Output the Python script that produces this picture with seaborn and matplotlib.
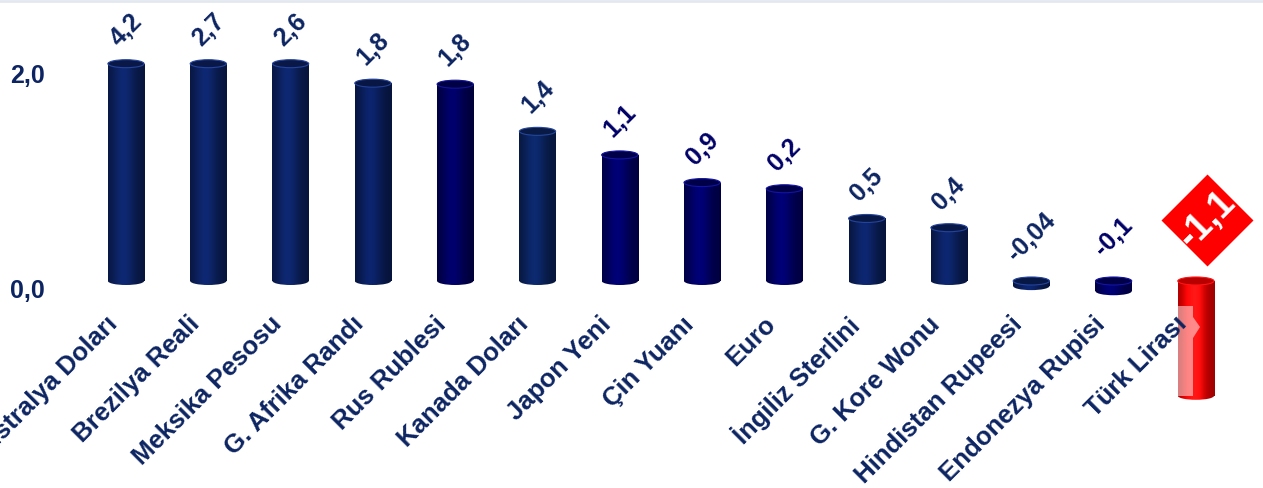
import numpy as np
import matplotlib
matplotlib.use("Agg")
import matplotlib.pyplot as plt
import matplotlib.transforms as mtransforms
import seaborn as sns
from matplotlib.patches import Rectangle, Ellipse, Polygon
from matplotlib.colors import to_rgb

# ---------------- data ----------------
currencies = ["Avustralya Doları", "Brezilya Reali", "Meksika Pesosu", "G. Afrika Randı",
              "Rus Rublesi", "Kanada Doları", "Japon Yeni", "Çin Yuanı", "Euro",
              "İngiliz Sterlini", "G. Kore Wonu", "Hindistan Rupeesi", "Endonezya Rupisi",
              "Türk Lirası"]
bar_heights = [2.12, 2.12, 2.12, 1.93, 1.92, 1.46, 1.23, 0.96, 0.90, 0.61, 0.52, -0.05, -0.10, -1.12]
value_labels = ["4,2", "2,7", "2,6", "1,8", "1,8", "1,4", "1,1", "0,9", "0,2", "0,5", "0,4",
                "-0,04", "-0,1", "-1,1"]
bar_colors = ["#0c2262", "#0c2262", "#0c2262", "#0a1f5e", "#00005e", "#0b2460", "#000066",
              "#000066", "#000066", "#0b2161", "#0b2161", "#0b2161", "#000066", "#ff0000"]
y_ticks = [0.0, 2.0]
y_tick_labels = ["0,0", "2,0"]
highlight = "Türk Lirası"

TEXT = "#0c2461"

# ---------------- figure ----------------
sns.set_theme(style="white")
plt.rcParams['font.family'] = ['Liberation Sans', 'DejaVu Sans']

W, H = 1263, 488
fig = plt.figure(figsize=(W / 100, H / 100), dpi=100)
ax = fig.add_axes([0, 0, 1, 1])

sns.barplot(x=currencies, y=bar_heights, hue=currencies, palette=bar_colors, legend=False,
            saturation=1, width=0.44, ax=ax)

PX = 82.3      # pixels per category
UY = 102.5     # pixels per y unit
ZERO_PX = 281  # pixel row of zero
XL = (-126 / PX, -126 / PX + W / PX)
YL = (-(H - ZERO_PX) / UY, ZERO_PX / UY)
ax.axis('off')

bars = sorted(ax.patches, key=lambda p: p.get_x())
ell_h = 8 / UY


def gradient(rgb):
    t = np.linspace(0, 1, 120)
    f = 0.62 + 0.55 * np.exp(-((t - 0.42) / 0.30) ** 2)
    img = np.clip(np.array(rgb)[None, :] * f[:, None], 0, 1)
    if rgb[0] > 0.8:  # red: add a soft highlight
        hl = np.exp(-((t - 0.45) / 0.2) ** 2) * 0.15
        img = np.clip(img + hl[:, None] * np.array([0, 1, 1])[None, :] * 0.6, 0, 1)
    return img[None, :, :]


for i, p in enumerate(bars):
    rgb = to_rgb(bar_colors[i])
    x, w = p.get_x(), p.get_width()
    y_a, y_b = p.get_y(), p.get_y() + p.get_height()
    y0, y1 = min(y_a, y_b), max(y_a, y_b)
    cx = x + w / 2
    p.set_facecolor('none')
    p.set_edgecolor('none')
    img = gradient(rgb)
    # body
    body = Rectangle((x, y0), w, y1 - y0, transform=ax.transData)
    im = ax.imshow(img, extent=[x, x + w, y0 - ell_h, y1], aspect='auto',
                   interpolation='bilinear', zorder=2)
    im.set_clip_path(body)
    # rounded bottom
    bot = Ellipse((cx, y0), w, ell_h, transform=ax.transData)
    im2 = ax.imshow(img, extent=[x, x + w, y0 - ell_h, y1], aspect='auto',
                    interpolation='bilinear', zorder=2)
    im2.set_clip_path(bot)
    # top face
    top_col = np.clip(np.array(rgb) * 0.72, 0, 1)
    rim = np.clip(np.array(rgb) * 1.4 + 0.08, 0, 1)
    ax.add_patch(Ellipse((cx, y1), w, ell_h, facecolor=top_col, edgecolor=rim,
                         lw=0.8, zorder=3))

    h = bar_heights[i]
    if currencies[i] == highlight:
        # pale overlay on left half
        ov_top = y1 - 25 / UY
        ax.add_patch(Rectangle((x, y0), 0.42 * w, ov_top - y0, facecolor='white',
                               alpha=0.5, edgecolor='none', zorder=4))
        xe = x + 0.42 * w
        ax.add_patch(Polygon([[xe, y1 - 36 / UY], [xe + 7 / PX, y1 - 46 / UY],
                              [xe, y1 - 57 / UY]], closed=True, facecolor='white',
                             alpha=0.5, edgecolor='none', zorder=4))
        # diamond label
        ly = y1 + 61 / UY
        lx = cx + 11 / PX
        ax.plot([lx], [ly], marker='D', ms=47, color='#ff0000', mec='none', zorder=5)
        ax.text(lx, ly, value_labels[i], rotation=45, rotation_mode='anchor', ha='center',
                va='center', fontsize=27, fontweight='bold', color='white', zorder=6)
    else:
        base = y1
        off = 34 / UY if h > 0 else 44 / UY
        ax.text(cx + 0 / PX, base + off, value_labels[i], rotation=45, rotation_mode='anchor',
                ha='center', va='center', fontsize=18, fontweight='bold',
                color=TEXT if bar_colors[i] != "#000066" else "#000066", zorder=6)

    # category label under the bar
    ax.text(cx - 21 / PX, -(312 - ZERO_PX) / UY, currencies[i], rotation=45,
            rotation_mode='anchor', ha='right', va='top', fontsize=18.5, fontweight='bold',
            color=TEXT, zorder=6)

# y tick labels
blend = mtransforms.blended_transform_factory(ax.transAxes, ax.transData)
for v, lab in zip(y_ticks, y_tick_labels):
    nudge = -10 if v == 0 else 0
    tr = mtransforms.offset_copy(blend, fig=fig, x=0, y=nudge, units='dots')
    ax.text(45 / W, v, lab, transform=tr, ha='right', va='center', fontsize=18,
            fontweight='bold', color=TEXT)

fig.add_artist(plt.Line2D([0, 1], [0.998, 0.998], transform=fig.transFigure,
                          color='#e3e8f0', lw=2))

ax.set_xlim(*XL)
ax.set_ylim(*YL)
fig.savefig("out.png", dpi=100)
